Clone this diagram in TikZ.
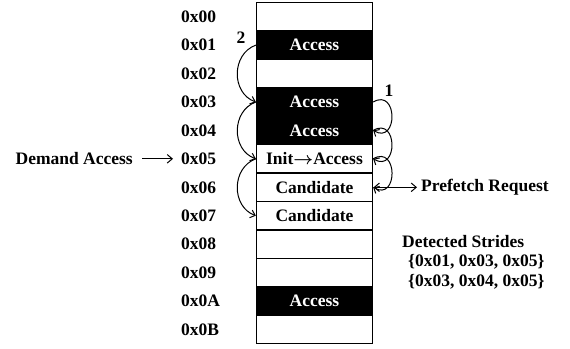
\documentclass[tikz,border=0pt]{standalone}
\usepackage{fontspec}
\setmainfont{Liberation Serif}
\usetikzlibrary{arrows.meta}
\begin{document}
\begin{tikzpicture}[x=1pt,y=1pt,
  font=\fontsize{17.5}{20}\selectfont\bfseries,
  cell/.style={draw, line width=1.3pt, minimum width=116pt, minimum height=28.42pt, inner sep=0pt},
  acc/.style={cell, fill=black, text=white},
  addr/.style={anchor=west, inner sep=0pt},
  txt/.style={inner sep=0pt},
  hop/.style={line width=1pt, -{Straight Barb[length=4.5pt,width=8pt]}},
  tip/.style={line width=1pt, -{Straight Barb[length=5pt,width=8.5pt]}},
]
\useasboundingbox (0,0) rectangle (570,-348);

% memory lines, one cell per address
\node[cell] (c0)  at (314.5,-16.7)  {};
\node[acc]  (c1)  at (314.5,-45.1)  {Access};
\node[cell] (c2)  at (314.5,-73.5)  {};
\node[acc]  (c3)  at (314.5,-102.0) {Access};
\node[acc]  (c4)  at (314.5,-130.4) {Access};
\node[cell] (c5)  at (314.5,-158.8) {Init{\boldmath$\rightarrow$}Access};
\node[cell] (c6)  at (314.5,-187.3) {Candidate};
\node[cell] (c7)  at (314.5,-215.7) {Candidate};
\node[cell] (c8)  at (314.5,-244.1) {};
\node[cell] (c9)  at (314.5,-272.5) {};
\node[acc]  (c10) at (314.5,-300.9) {Access};
\node[cell] (c11) at (314.5,-329.3) {};

% addresses
\node[addr] (l0)  at (181,-16.7)  {0x00};
\node[addr] (l1)  at (181,-45.1)  {0x01};
\node[addr] (l2)  at (181,-73.5)  {0x02};
\node[addr] (l3)  at (181,-102.0) {0x03};
\node[addr] (l4)  at (181,-130.4) {0x04};
\node[addr] (l5)  at (181,-158.8) {0x05};
\node[addr] (l6)  at (181,-187.3) {0x06};
\node[addr] (l7)  at (181,-215.7) {0x07};
\node[addr] (l8)  at (181,-244.1) {0x08};
\node[addr] (l9)  at (181,-272.5) {0x09};
\node[addr] (l10) at (181,-300.9) {0x0A};
\node[addr] (l11) at (181,-329.3) {0x0B};

% stride 2 chain on the left
\draw[hop] (c1.west) to[out=200,in=160,looseness=1.18] (c3.west);
\draw[hop] (c3.west) to[out=200,in=160,looseness=1.18] (c5.west);
\draw[hop] (c5.west) to[out=200,in=160,looseness=1.18] (c7.west);
\node[txt] (n2) at (241,-38) {2};

% stride 1 chain on the right
\draw[hop] (c3.east) to[out=30,in=-30,looseness=2.6] (c4.east);
\draw[hop] (c4.east) to[out=30,in=-30,looseness=2.6] (c5.east);
\draw[hop] (c5.east) to[out=30,in=-30,looseness=2.6] (c6.east);
\node[txt] (n1) at (389,-91) {1};

% demand access and prefetch request
\node[txt, anchor=east] (dem) at (133,-158.8) {Demand Access};
\draw[tip, shorten <=9pt, shorten >=8pt] (dem.east) -- (l5.west);

\node[txt, anchor=west] (pf) at (421,-187.3) {Prefetch Request};
\draw[line width=1pt, {Straight Barb[length=5pt,width=8.5pt]}-{Straight Barb[length=5pt,width=8.5pt]}, shorten >=4pt, shorten <=0.5pt] (c6.east) -- (pf.west);

% detected strides
\node[txt, anchor=west] (ds) at (402,-242) {Detected Strides};
\node[txt, anchor=west] (s1) at (408,-262) {\{0x01, 0x03, 0x05\}};
\node[txt, anchor=west] (s2) at (408,-282) {\{0x03, 0x04, 0x05\}};
\end{tikzpicture}
\end{document}
